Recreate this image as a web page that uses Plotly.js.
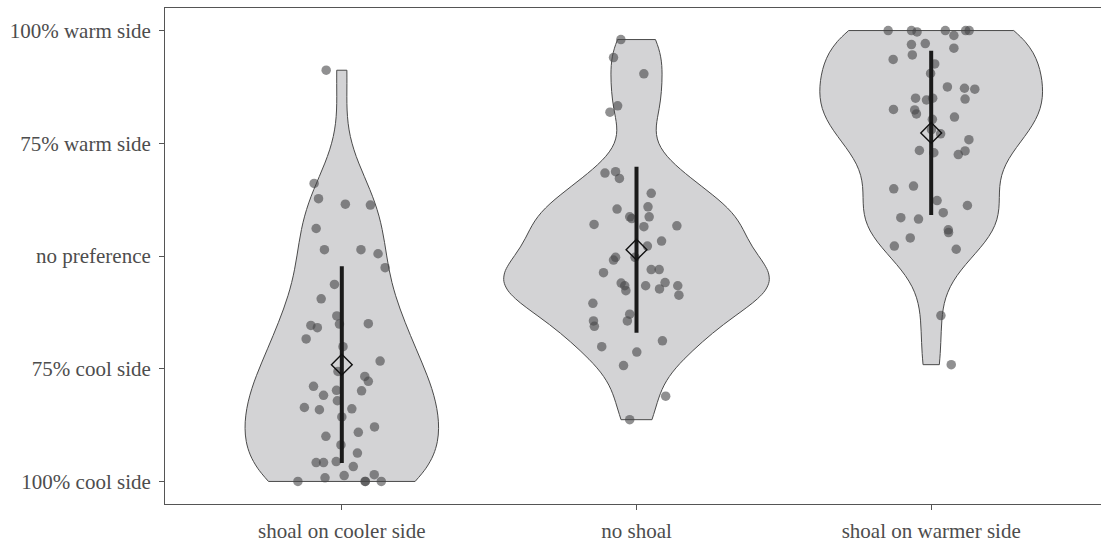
<!DOCTYPE html>
<html>
<head>
<meta charset="utf-8">
<script src="https://cdn.plot.ly/plotly-3.0.1.min.js"></script>
<style>
html, body { margin: 0; padding: 0; overflow: hidden; background: #fff; }
#chart { width: 1108px; height: 544px; }
</style>
</head>
<body>
<div id="chart"></div>
<script>
// ---- data ----
const categories = ["shoal on cooler side", "no shoal", "shoal on warmer side"];
const yTickVals = [0, 0.25, 0.5, 0.75, 1];
const yTickText = ["100% cool side", "75% cool side", "no preference", "75% warm side", "100% warm side"];

// preference values (0 = 100% cool side, 1 = 100% warm side)
const coolValues = [0.912,0.661,0.627,0.615,0.613,0.561,0.514,0.514,0.505,0.474,0.437,0.405,0.367,0.346,0.341,0.349,0.350,0.316,0.299,0.267,0.244,0.233,0.222,0.211,0.202,0.191,0.201,0.179,0.164,0.159,0.161,0.143,0.121,0.109,0.100,0.081,0.063,0.042,0.042,0.044,0.033,0.0,0.008,0.013,0.0,0.015,0.0,0.0];
const coolJitter = [-0.053,-0.094,-0.079,0.012,0.097,-0.087,-0.059,0.065,0.123,0.147,-0.025,-0.070,-0.017,-0.105,-0.083,-0.008,0.090,-0.121,0.004,0.130,-0.013,0.078,0.090,-0.096,-0.018,-0.062,0.067,-0.015,-0.127,-0.076,0.034,0.000,0.111,0.056,-0.054,-0.003,0.053,-0.087,-0.062,-0.019,0.039,-0.149,-0.057,0.008,0.080,0.110,0.134,0.079];

const noShoalValues = [0.980,0.940,0.904,0.833,0.819,0.684,0.687,0.672,0.639,0.604,0.609,0.587,0.587,0.583,0.570,0.565,0.567,0.533,0.522,0.497,0.491,0.497,0.463,0.470,0.470,0.440,0.434,0.423,0.434,0.441,0.427,0.434,0.413,0.395,0.356,0.344,0.371,0.356,0.312,0.299,0.287,0.257,0.189,0.137];
const noShoalJitter = [-0.053,-0.078,0.025,-0.064,-0.090,-0.107,-0.071,-0.058,0.050,-0.066,0.039,0.043,-0.023,-0.016,-0.144,0.025,0.137,0.085,0.037,-0.005,-0.078,-0.071,-0.112,0.050,0.077,-0.052,-0.040,-0.036,0.031,0.097,0.078,0.140,0.144,-0.148,-0.146,-0.143,-0.023,-0.031,0.088,-0.118,0.001,-0.044,0.099,-0.023];

const warmValues = [1.0,1.0,0.997,1.0,1.0,1.0,0.989,0.969,0.971,0.961,0.936,0.946,0.926,0.905,0.875,0.872,0.870,0.850,0.846,0.850,0.848,0.825,0.824,0.815,0.808,0.803,0.780,0.771,0.758,0.734,0.729,0.725,0.733,0.649,0.655,0.623,0.612,0.596,0.585,0.582,0.558,0.552,0.540,0.522,0.515,0.368,0.259];
const warmJitter = [-0.146,-0.067,-0.048,0.048,0.117,0.129,0.077,-0.067,-0.020,0.077,-0.129,-0.064,0.012,-0.002,0.055,0.113,0.148,-0.053,-0.016,0.005,0.115,-0.128,-0.056,-0.050,0.079,0.004,0.001,0.032,0.128,-0.040,0.009,0.092,0.115,-0.127,-0.060,0.020,0.123,0.041,-0.103,-0.043,0.058,0.059,-0.071,-0.125,0.085,0.033,0.068];

// group means and standard deviations
const groupMeans = [0.259, 0.514, 0.773];
const groupSDs = [0.218, 0.184, 0.182];

// ---- helpers ----
function quantile7(sorted, p) {
  const h = (sorted.length - 1) * p;
  const lo = Math.floor(h), hi = Math.ceil(h);
  return sorted[lo] + (h - lo) * (sorted[hi] - sorted[lo]);
}
function nrd0(vals) {
  const n = vals.length;
  const m = vals.reduce((a, b) => a + b, 0) / n;
  const sd = Math.sqrt(vals.reduce((a, b) => a + (b - m) * (b - m), 0) / (n - 1));
  const s = vals.slice().sort((a, b) => a - b);
  const iqr = quantile7(s, 0.75) - quantile7(s, 0.25);
  let lo = Math.min(sd, iqr / 1.34);
  if (!(lo > 0)) lo = sd;
  return 0.9 * lo * Math.pow(n, -0.2);
}

const groups = [
  {vals: coolValues, jit: coolJitter},
  {vals: noShoalValues, jit: noShoalJitter},
  {vals: warmValues, jit: warmJitter}
];

const traces = [];
groups.forEach((g, i) => {
  traces.push({
    type: 'violin',
    x0: i,
    y: g.vals,
    orientation: 'v',
    points: false,
    box: {visible: false},
    meanline: {visible: false},
    spanmode: 'hard',
    bandwidth: nrd0(g.vals),
    scalegroup: 'all',
    scalemode: 'width',
    fillcolor: '#d3d3d5',
    line: {color: '#4a4a4a', width: 1},
    opacity: 1,
    hoverinfo: 'skip',
    showlegend: false
  });
});

groups.forEach((g, i) => {
  traces.push({
    type: 'scatter',
    mode: 'markers',
    x: g.jit.map(d => i + d),
    y: g.vals,
    marker: {size: 9.5, color: 'rgba(70,70,72,0.6)', line: {width: 0}},
    hoverinfo: 'skip',
    showlegend: false
  });
});

traces.push({
  type: 'scatter',
  mode: 'markers',
  x: categories.map((c, i) => i),
  y: groupMeans,
  error_y: {type: 'data', array: groupSDs, visible: true, thickness: 4, width: 0, color: '#1a1a1a'},
  marker: {symbol: 'diamond-open', size: 16, color: '#111', line: {width: 1.4, color: '#111'}},
  hoverinfo: 'skip',
  showlegend: false
});

const tickFont = {family: 'Liberation Serif, Times New Roman, serif', size: 21, color: '#4d4d4d'};

const layout = {
  width: 1108,
  height: 544,
  margin: {l: 165, r: 0, t: 8, b: 40, pad: 0},
  paper_bgcolor: '#ffffff',
  plot_bgcolor: '#ffffff',
  violinmode: 'overlay',
  violingap: 0.1,
  violingroupgap: 0,
  showlegend: false,
  xaxis: {
    range: [-0.6, 2.6],
    tickmode: 'array',
    tickvals: categories.map((c, i) => i),
    ticktext: categories,
    showgrid: false,
    zeroline: false,
    showline: true,
    mirror: true,
    linecolor: '#555555',
    linewidth: 1,
    ticks: 'outside',
    ticklen: 5,
    tickwidth: 1,
    tickcolor: '#555555',
    tickfont: tickFont,
    ticklabelstandoff: 3
  },
  yaxis: {
    range: [-0.05, 1.05],
    tickmode: 'array',
    tickvals: yTickVals,
    ticktext: yTickText,
    showgrid: false,
    zeroline: false,
    showline: true,
    mirror: true,
    linecolor: '#555555',
    linewidth: 1,
    ticks: 'outside',
    ticklen: 5,
    tickwidth: 1,
    tickcolor: '#555555',
    tickfont: tickFont,
    ticklabelstandoff: 4
  }
};

Plotly.newPlot('chart', traces, layout, {staticPlot: true, displayModeBar: false});
</script>
</body>
</html>
